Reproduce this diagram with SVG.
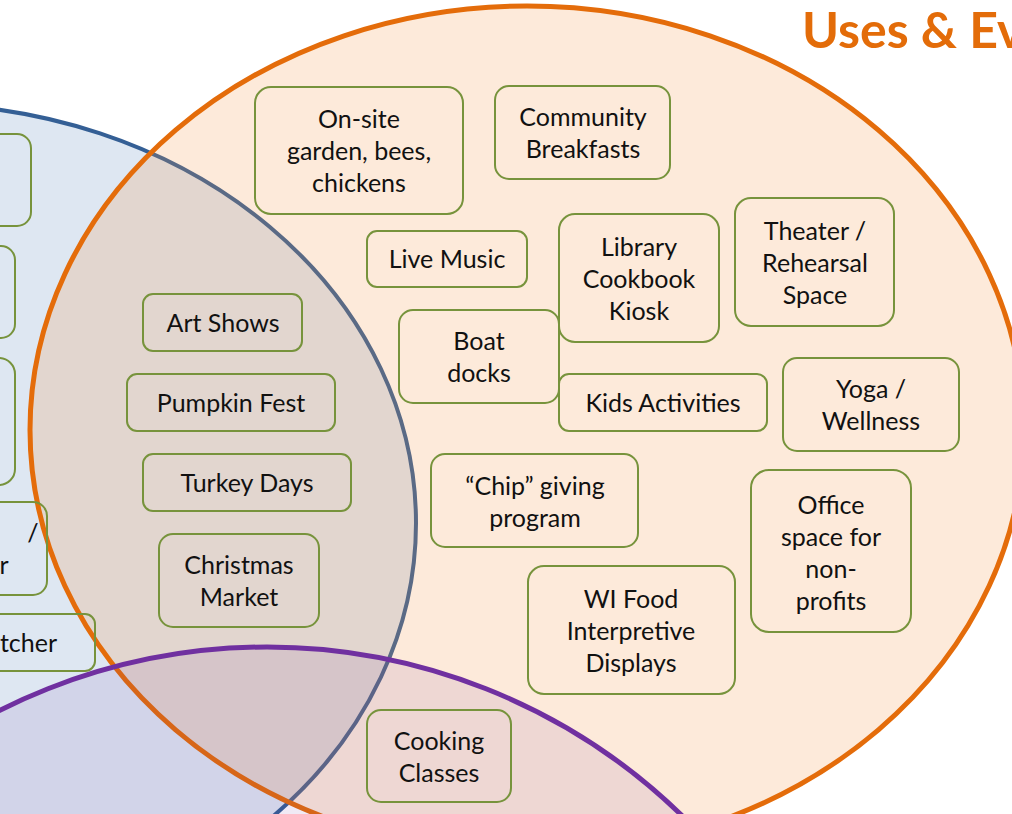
<svg xmlns="http://www.w3.org/2000/svg" width="1012" height="814" viewBox="0 0 1012 814">
<style>
.box{fill:none;stroke:#77933C;stroke-width:2}
.t{font-family:"Lato","Liberation Sans",sans-serif;font-size:25px;fill:#111;text-anchor:middle}
.title{font-family:"Lato","Liberation Sans",sans-serif;font-size:50px;font-weight:bold;fill:#E36C09}
</style>
<rect width="1012" height="814" fill="#ffffff"/>
<g id="circles">
<ellipse id="blue" cx="-84" cy="523" rx="500" ry="419" fill="#DEE7F2" stroke="#345F95" stroke-width="4"/>
<ellipse id="orange" cx="527" cy="430" rx="497" ry="424" fill="rgb(247,150,70)" fill-opacity="0.2" stroke="#E46C0A" stroke-width="5"/>
<circle id="purple" cx="267" cy="1242" r="595" fill="rgb(112,48,160)" fill-opacity="0.1" stroke="#7030A0" stroke-width="5"/>
</g>
<text class="title" x="802" y="48">Uses &amp; Ev</text>
<g id="n1"><rect class="box" x="255" y="87" width="208" height="127" rx="16"/><text class="t"><tspan x="359" y="128">On-site</tspan><tspan x="359" y="160">garden, bees,</tspan><tspan x="359" y="192">chickens</tspan></text></g>
<g id="n2"><rect class="box" x="495" y="86" width="175" height="93" rx="14"/><text class="t"><tspan x="583" y="126">Community</tspan><tspan x="583" y="158">Breakfasts</tspan></text></g>
<g id="n3"><rect class="box" x="367" y="231" width="160" height="56" rx="10"/><text class="t" x="447" y="268">Live Music</text></g>
<g id="n4"><rect class="box" x="559" y="214" width="160" height="128" rx="16"/><text class="t"><tspan x="639" y="256">Library</tspan><tspan x="639" y="288">Cookbook</tspan><tspan x="639" y="320">Kiosk</tspan></text></g>
<g id="n5"><rect class="box" x="735" y="198" width="159" height="128" rx="16"/><text class="t"><tspan x="815" y="240">Theater /</tspan><tspan x="815" y="272">Rehearsal</tspan><tspan x="815" y="304">Space</tspan></text></g>
<g id="n6"><rect class="box" x="399" y="310" width="160" height="93" rx="14"/><text class="t"><tspan x="479" y="350">Boat</tspan><tspan x="479" y="382">docks</tspan></text></g>
<g id="n7"><rect class="box" x="559" y="374" width="208" height="57" rx="10"/><text class="t" x="663" y="412">Kids Activities</text></g>
<g id="n8"><rect class="box" x="783" y="358" width="176" height="93" rx="14"/><text class="t"><tspan x="871" y="398">Yoga /</tspan><tspan x="871" y="430">Wellness</tspan></text></g>
<g id="n9"><rect class="box" x="431" y="454" width="207" height="93" rx="14"/><text class="t"><tspan x="535" y="495">“Chip” giving</tspan><tspan x="535" y="527">program</tspan></text></g>
<g id="n10"><rect class="box" x="751" y="470" width="160" height="162" rx="18"/><text class="t"><tspan x="831" y="514">Office</tspan><tspan x="831" y="546">space for</tspan><tspan x="831" y="578">non-</tspan><tspan x="831" y="610">profits</tspan></text></g>
<g id="n11"><rect class="box" x="528" y="566" width="207" height="128" rx="16"/><text class="t"><tspan x="631" y="608">WI Food</tspan><tspan x="631" y="640">Interpretive</tspan><tspan x="631" y="672">Displays</tspan></text></g>
<g id="n12"><rect class="box" x="367" y="710" width="144" height="92" rx="14"/><text class="t"><tspan x="439" y="750">Cooking</tspan><tspan x="439" y="782">Classes</tspan></text></g>
<g id="n13"><rect class="box" x="143" y="294" width="159" height="57" rx="10"/><text class="t" x="223" y="332">Art Shows</text></g>
<g id="n14"><rect class="box" x="127" y="374" width="208" height="57" rx="10"/><text class="t" x="231" y="412">Pumpkin Fest</text></g>
<g id="n15"><rect class="box" x="143" y="454" width="208" height="57" rx="10"/><text class="t" x="247" y="492">Turkey Days</text></g>
<g id="n16"><rect class="box" x="159" y="534" width="160" height="93" rx="14"/><text class="t"><tspan x="239" y="574">Christmas</tspan><tspan x="239" y="606">Market</tspan></text></g>
<g id="n17"><rect class="box" x="-130" y="134" width="161" height="92" rx="14"/></g>
<g id="n18"><rect class="box" x="-146" y="246" width="161" height="92" rx="14"/></g>
<g id="n19"><rect class="box" x="-146" y="358" width="161" height="127" rx="16"/></g>
<g id="n20"><rect class="box" x="-114" y="502" width="161" height="93" rx="14"/><text class="t"><tspan x="33" y="542">/</tspan><tspan x="4" y="574">r</tspan></text></g>
<g id="n21"><rect class="box" x="-114" y="614" width="209" height="57" rx="10"/><text class="t" x="57" y="652" style="text-anchor:end">tcher</text></g>
<g id="connectors"/>
</svg>
